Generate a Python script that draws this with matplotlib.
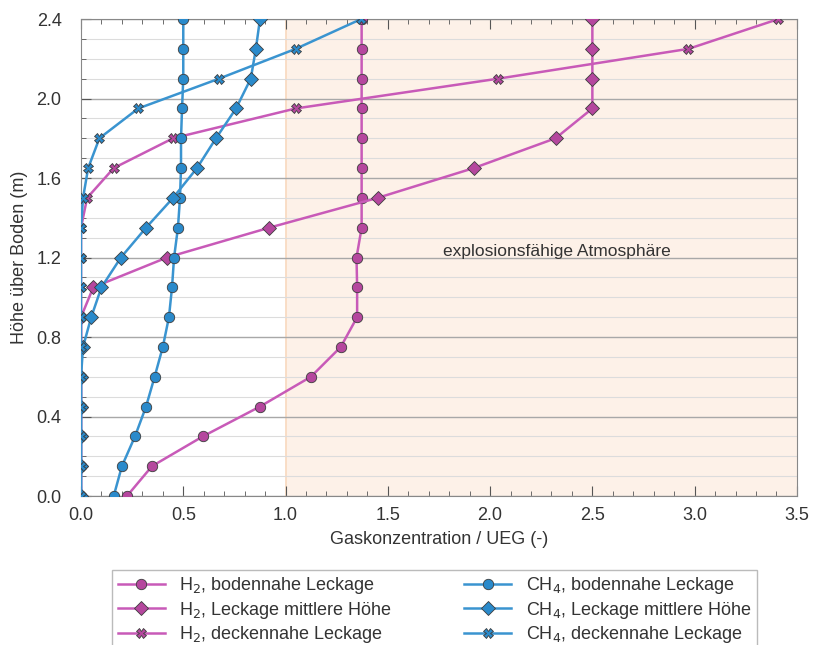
import numpy as np
import matplotlib.pyplot as plt
from matplotlib.ticker import MultipleLocator

plt.rcParams['font.family'] = ['Liberation Sans', 'DejaVu Sans']

hoehe = [0.0, 0.15, 0.3, 0.45, 0.6, 0.75, 0.9, 1.05, 1.2, 1.35, 1.5, 1.65, 1.8, 1.95, 2.1, 2.25, 2.4]

h2_boden = [0.225, 0.347, 0.596, 0.875, 1.124, 1.27, 1.35, 1.35, 1.347, 1.372, 1.372, 1.372, 1.372, 1.372, 1.372, 1.372, 1.372]
h2_mitte = [0.0, 0.0, 0.0, 0.0, 0.0, 0.0, 0.0, 0.06, 0.42, 0.92, 1.45, 1.92, 2.32, 2.50, 2.50, 2.50, 2.50]
h2_decke = [0.0, 0.0, 0.0, 0.0, 0.0, 0.0, 0.0, 0.0, 0.0, 0.0, 0.03, 0.16, 0.45, 1.05, 2.04, 2.97, 3.41]

ch4_boden = [0.16, 0.20, 0.264, 0.318, 0.36, 0.40, 0.43, 0.445, 0.455, 0.474, 0.484, 0.489, 0.489, 0.494, 0.50, 0.50, 0.50]
ch4_mitte = [0.0, 0.0, 0.0, 0.0, 0.0, 0.01, 0.05, 0.10, 0.195, 0.318, 0.45, 0.567, 0.66, 0.758, 0.83, 0.855, 0.875]
ch4_decke = [0.0, 0.0, 0.0, 0.0, 0.0, 0.0, 0.0, 0.0, 0.0, 0.0, 0.01, 0.035, 0.09, 0.28, 0.675, 1.05, 1.37]

labels = ['H$_2$, bodennahe Leckage', 'H$_2$, Leckage mittlere Höhe', 'H$_2$, deckennahe Leckage',
          'CH$_4$, bodennahe Leckage', 'CH$_4$, Leckage mittlere Höhe', 'CH$_4$, deckennahe Leckage']

mag_line = '#c85ab8'
mag_fill = '#b5479e'
blue_line = '#3a94d0'
blue_fill = '#2a8acb'
edge = '#3c3c3c'

fig = plt.figure(figsize=(8.14, 6.45), dpi=100)
ax = fig.add_axes([0.0995, 0.231, 0.8795, 0.7395])

ax.axvspan(1.0, 3.5, color='#fdf1e8', zorder=0)
ax.axvline(1.0, color='#f9d9bf', lw=1.2, zorder=0.5)

series = [
    (h2_boden, mag_line, mag_fill, 'o', 7.5),
    (h2_mitte, mag_line, mag_fill, 'D', 7),
    (h2_decke, mag_line, mag_fill, 'X', 7),
    (ch4_boden, blue_line, blue_fill, 'o', 7.5),
    (ch4_mitte, blue_line, blue_fill, 'D', 7),
    (ch4_decke, blue_line, blue_fill, 'X', 7),
]
handles = []
for (vals, lc, fc, m, ms), lab in zip(series, labels):
    ln, = ax.plot(vals, hoehe, color=lc, lw=1.8, marker=m, ms=ms,
                  mfc=fc, mec=edge, mew=0.6, label=lab, zorder=3)
    handles.append(ln)

ax.set_xlim(0, 3.5)
ax.set_ylim(0, 2.4)
ax.xaxis.set_major_locator(MultipleLocator(0.5))
ax.xaxis.set_minor_locator(MultipleLocator(0.1))
ax.yaxis.set_major_locator(MultipleLocator(0.4))
ax.yaxis.set_minor_locator(MultipleLocator(0.1))
ax.set_xticks(np.arange(0, 3.51, 0.5))
ax.set_xticklabels(['0.0', '0.5', '1.0', '1.5', '2.0', '2.5', '3.0', '3.5'])
ax.grid(True, axis='y', which='major', color='#a8a8a8', lw=1.0, zorder=1)
ax.grid(True, axis='y', which='minor', color='#dcdcdc', lw=0.8, zorder=1)
ax.set_axisbelow(True)
ax.tick_params(which='both', direction='in', top=True, color='#555555', labelsize=13,
               labelcolor='#333333')
ax.tick_params(axis='x', pad=8)
ax.tick_params(axis='y', pad=14)
ax.tick_params(which='major', length=7)
ax.tick_params(which='minor', length=3.5)
for s in ax.spines.values():
    s.set_color('#888888')

ax.set_xlabel('Gaskonzentration / UEG (-)', fontsize=13, color='#333333', labelpad=5)
ax.set_ylabel('Höhe über Boden (m)', fontsize=13, color='#333333', labelpad=6)

ax.text(1.77, 1.228, 'explosionsfähige Atmosphäre', fontsize=12.5, color='#333333',
        va='center', ha='left', zorder=4)

fig.legend(handles=handles, loc='upper center', bbox_to_anchor=(0.534, 0.117), ncol=2,
           fontsize=13, frameon=True, fancybox=False, edgecolor='#aaaaaa',
           handlelength=2.6, columnspacing=4.0, labelspacing=0.2, borderpad=0.3,
           borderaxespad=0, labelcolor='#333333')

fig.savefig('out.png', dpi=100)
